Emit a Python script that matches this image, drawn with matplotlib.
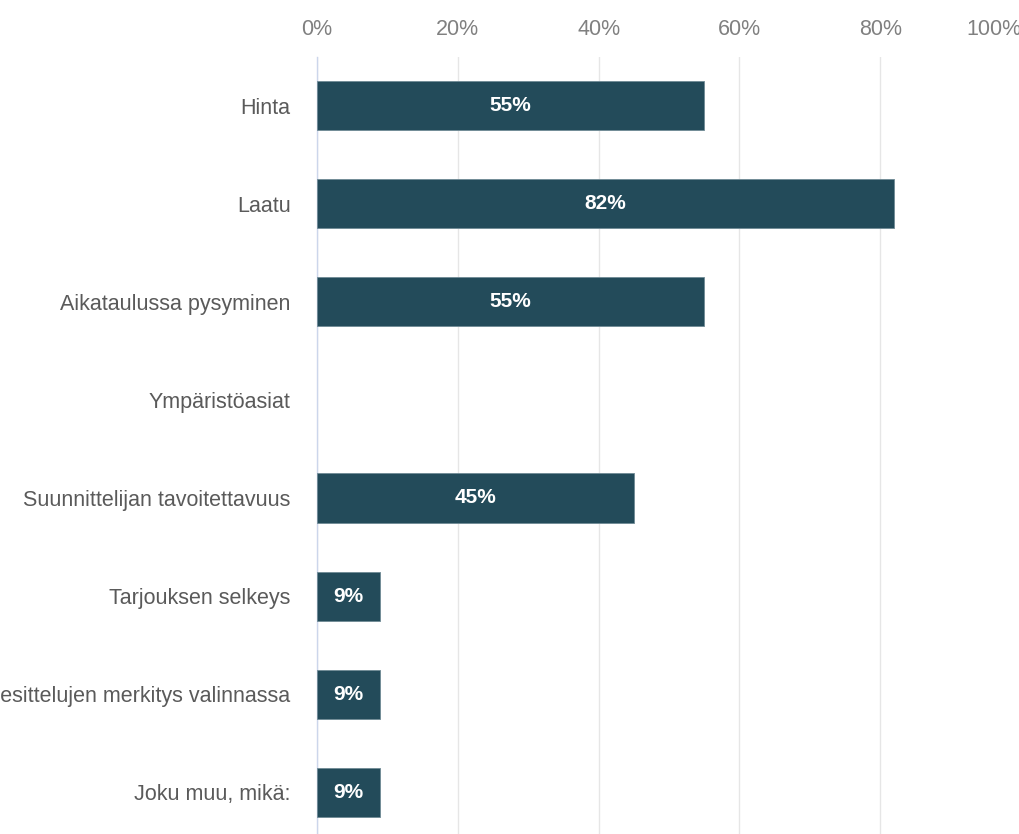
import matplotlib
matplotlib.use("Agg")
import matplotlib.pyplot as plt

categories = ["Hinta", "Laatu", "Aikataulussa pysyminen", "Ympäristöasiat",
              "Suunnittelijan tavoitettavuus", "Tarjouksen selkeys",
              "Referenssien esittelujen merkitys valinnassa", "Joku muu, mikä:"]
values = [55, 82, 55, 0, 45, 9, 9, 9]
xticks = [0, 20, 40, 60, 80, 100]
xticklabels = ["0%", "20%", "40%", "60%", "80%", "100%"]

plt.rcParams['font.family'] = ['Liberation Sans', 'DejaVu Sans']

fig = plt.figure(figsize=(10.2, 8.34), dpi=100)
ax = fig.add_axes([317/1020, -7/834, 704/1020, 784/834])

y = list(range(len(categories)))
bars = ax.barh(y, values, height=0.5, color="#234b5a", edgecolor="#6f8a95", linewidth=0.6, zorder=3)
for b, v in zip(bars, values):
    if v == 0:
        b.set_visible(False)
for yi, v in zip(y, values):
    if v > 0:
        ax.text(v / 2, yi, f"{v}%", ha="center", va="center", color="white",
                fontsize=15, fontweight="bold", zorder=4)

ax.set_ylim(len(categories) - 0.5, -0.5)
ax.set_xlim(0, 100)
ax.set_yticks(y)
ax.set_yticklabels(categories, fontsize=15.5, color="#5a5a5a")
ax.tick_params(axis="y", length=0, pad=19)
ax.xaxis.tick_top()
ax.set_xticks(xticks)
ax.set_xticklabels(xticklabels, fontsize=15.5, color="#808080")
ax.tick_params(axis="x", length=0, pad=12)
labs = ax.get_xticklabels()
labs[-1].set_horizontalalignment("right")

ax.grid(axis="x", color="#e6e6e6", linewidth=1, zorder=0)
for s in ["top", "right", "bottom"]:
    ax.spines[s].set_visible(False)
ax.spines["left"].set_color("#ccd6eb")
ax.spines["left"].set_linewidth(1)

fig.savefig("out.png", dpi=100)
